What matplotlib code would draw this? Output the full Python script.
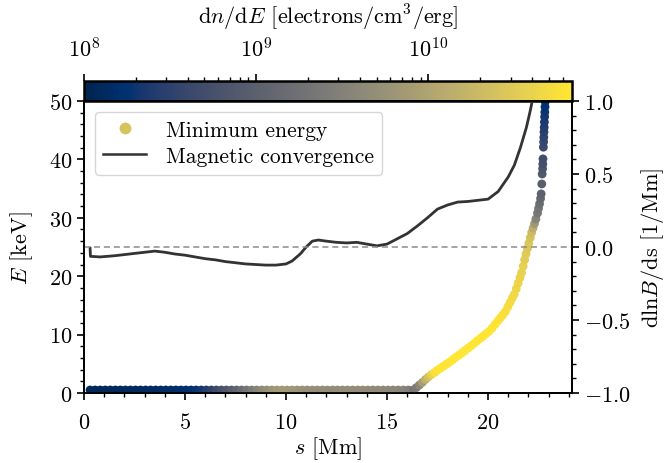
import matplotlib
matplotlib.use('Agg')
import matplotlib.pyplot as plt
import numpy as np
from matplotlib.colors import LogNorm
from matplotlib.lines import Line2D
from matplotlib.ticker import MultipleLocator

plt.rcParams['font.family'] = 'serif'
plt.rcParams['font.serif'] = ['cmr10']
plt.rcParams['mathtext.fontset'] = 'cm'
plt.rcParams['axes.formatter.use_mathtext'] = True
plt.rcParams['font.size'] = 16
plt.rcParams['axes.linewidth'] = 1.3

# minimum energy along the loop (flat part near E = 0)
s_flat = [0.3, 0.55, 0.8, 1.05, 1.3, 1.55, 1.8, 2.05, 2.3, 2.55, 2.8, 3.05, 3.3, 3.55, 3.8,
          4.05, 4.3, 4.55, 4.8, 5.05, 5.3, 5.55, 5.8, 6.05, 6.3, 6.55, 6.8, 7.05, 7.3, 7.55,
          7.8, 8.05, 8.3, 8.55, 8.8, 9.05, 9.3, 9.55, 9.8, 10.05, 10.3, 10.55, 10.8, 11.05,
          11.3, 11.55, 11.8, 12.05, 12.3, 12.55, 12.8, 13.05, 13.3, 13.55, 13.8, 14.05, 14.3,
          14.55, 14.8, 15.05, 15.3, 15.55, 15.8, 16.05, 16.3]
e_flat_level = 0.5
dnde_flat = [1.2e8, 1.2e8, 1.2e8, 1.2e8, 1.25e8, 1.25e8, 1.25e8, 1.3e8, 1.3e8, 1.3e8, 1.3e8,
             1.35e8, 1.35e8, 1.35e8, 1.4e8, 1.4e8, 1.45e8, 1.5e8, 1.55e8, 1.6e8, 1.7e8, 1.9e8,
             2.1e8, 2.6e8, 3.3e8, 4.3e8, 5.5e8, 7e8, 9e8, 1.2e9, 1.6e9, 2.1e9, 2.7e9, 3.4e9,
             4.2e9, 5e9, 6e9, 6.8e9, 7.2e9, 7e9, 6.5e9, 6e9, 5.6e9, 5.3e9, 5.1e9, 5e9, 4.9e9,
             4.8e9, 4.8e9, 4.7e9, 4.7e9, 4.6e9, 4.6e9, 4.5e9, 4.5e9, 4.4e9, 4.4e9, 4.3e9,
             4.2e9, 4.1e9, 4e9, 3.8e9, 3.5e9, 3e9, 2.2e9]

# rising part
s_rise = [16.45, 16.6, 16.75, 16.9, 17.05, 17.2, 17.35, 17.5, 17.65, 17.8, 17.95, 18.1, 18.25,
          18.4, 18.55, 18.7, 18.85, 19.0, 19.15, 19.3, 19.45, 19.6, 19.75, 19.9, 20.05, 20.2,
          20.35, 20.5, 20.62, 20.74, 20.86, 20.98, 21.09, 21.2, 21.3, 21.4, 21.49, 21.58,
          21.66, 21.74, 21.81, 21.88, 21.95, 22.02, 22.09, 22.16, 22.23, 22.3, 22.37]
e_rise = [0.9, 1.35, 1.8, 2.3, 2.75, 3.15, 3.5, 3.9, 4.25, 4.6, 4.95, 5.3, 5.7, 6.1, 6.45,
          6.85, 7.25, 7.65, 8.05, 8.45, 8.9, 9.3, 9.7, 10.15, 10.55, 11.1, 11.75, 12.4, 12.9,
          13.4, 13.95, 14.75, 15.5, 16.25, 16.9, 17.85, 18.8, 19.75, 20.6, 21.7, 22.8, 23.8,
          24.75, 25.65, 26.6, 27.5, 28.25, 29.0, 29.8]
dnde_rise = [2.5e9, 4e9, 8e9, 1.5e10, 2.5e10, 4e10, 5.5e10, 6e10, 6.2e10, 6.3e10, 6.4e10,
             6.5e10, 6.5e10, 6.5e10, 6.5e10, 6.5e10, 6.5e10, 6.5e10, 6.5e10, 6.5e10, 6.5e10,
             6.5e10, 6.4e10, 6.4e10, 6.3e10, 6.2e10, 6.1e10, 6e10, 5.8e10, 5.6e10, 5.4e10,
             5.2e10, 5e10, 4.8e10, 4.6e10, 4.4e10, 4.2e10, 4e10, 3.8e10, 3.6e10, 3.4e10,
             3.2e10, 3e10, 2.8e10, 2.5e10, 2e10, 1.3e10, 7e9, 3.5e9]

# near-vertical part at the footpoint
s_top = [22.45, 22.5, 22.55, 22.6, 22.63, 22.66, 22.68, 22.7, 22.71, 22.72, 22.74, 22.75,
         22.76, 22.77, 22.78, 22.79, 22.8, 22.81, 22.82, 22.83]
e_top = [30.8, 31.6, 32.4, 33.3, 34.1, 35.8, 37.5, 38.4, 39.2, 40.1, 42.1, 43.0, 43.8, 44.7,
         45.5, 46.4, 47.3, 48.1, 49.0, 49.9]
dnde_top = [2.2e9, 2e9, 1.6e9, 1.3e9, 1.1e9, 9e8, 7.5e8, 6.5e8, 5.5e8, 5e8, 4.2e8, 3.8e8,
            3.4e8, 3e8, 2.7e8, 2.4e8, 2.2e8, 2e8, 1.8e8, 1.7e8]

# magnetic convergence dlnB/ds
s_conv = [0.3, 0.32, 0.8, 1.5, 2.0, 2.5, 3.0, 3.5, 4.0, 4.5, 5.0, 5.5, 6.0, 6.5, 7.0, 7.5,
          8.0, 8.5, 9.0, 9.5, 10.0, 10.3, 10.7, 11.0, 11.3, 11.6, 12.0, 12.5, 13.0, 13.5,
          14.0, 14.5, 15.0, 15.5, 16.0, 16.5, 17.0, 17.5, 18.0, 18.5, 19.0, 19.5, 20.0, 20.5,
          21.0, 21.3, 21.6, 21.9, 22.1, 22.3]
conv = [-0.008, -0.064, -0.068, -0.06, -0.052, -0.044, -0.036, -0.028, -0.036, -0.048,
        -0.056, -0.068, -0.08, -0.088, -0.1, -0.108, -0.116, -0.12, -0.124, -0.124, -0.116,
        -0.096, -0.048, 0.0, 0.04, 0.048, 0.04, 0.032, 0.028, 0.032, 0.02, 0.008, 0.02,
        0.056, 0.092, 0.144, 0.2, 0.26, 0.288, 0.308, 0.312, 0.32, 0.328, 0.38, 0.48, 0.56,
        0.68, 0.82, 0.94, 1.08]

s_min = s_flat + s_rise + s_top
e_min = [e_flat_level] * len(s_flat) + e_rise + e_top
dnde = dnde_flat + dnde_rise + dnde_top

fig = plt.figure(figsize=(6.72, 4.64), dpi=100)
ax = fig.add_axes([0.125, 0.151, 0.726, 0.629])
cax = fig.add_axes([0.125, 0.780, 0.726, 0.043])

norm = LogNorm(vmin=1e8, vmax=6.8e10)
sc = ax.scatter(s_min, e_min, c=dnde, cmap='cividis', norm=norm, s=40, edgecolors='none',
                zorder=3)
ax.set_xlim(0, 24.15)
ax.set_ylim(0, 50)
ax.set_xlabel('$s$ [Mm]', labelpad=1)
ax.set_ylabel('$E$ [keV]', labelpad=10)
ax.xaxis.set_major_locator(MultipleLocator(5))
ax.xaxis.set_minor_locator(MultipleLocator(1))
ax.yaxis.set_major_locator(MultipleLocator(10))
ax.yaxis.set_minor_locator(MultipleLocator(2))

ax2 = ax.twinx()
ax2.plot(s_conv, conv, color='#333333', lw=2.0)
ax2.axhline(0, color='#8c8c8c', ls=(0, (4, 2.5)), lw=1.1)
ax2.set_ylim(-1, 1)
ax2.set_ylabel('dln$B$/ds [1/Mm]', labelpad=6)
ax2.yaxis.set_major_locator(MultipleLocator(0.5))
ax2.yaxis.set_minor_locator(MultipleLocator(0.1))

for a in (ax, ax2):
  a.tick_params(which='major', direction='out', length=5, width=1.2)
  a.tick_params(which='minor', direction='out', length=3, width=1.0)
ax.tick_params(axis='x', which='major', pad=9)

cb = fig.colorbar(sc, cax=cax, orientation='horizontal')
cax.xaxis.set_ticks_position('top')
cax.xaxis.set_label_position('top')
cb.set_label('d$n$/d$E$ [electrons/cm$^3$/erg]', labelpad=9)
cax.tick_params(which='major', direction='out', length=5, width=1.2, pad=10)
cax.tick_params(which='minor', direction='out', length=3, width=1.0)
cb.outline.set_linewidth(1.8)

handles = [Line2D([], [], ls='none', marker='o', ms=8.5, color='#d6c35c', mec='none'),
           Line2D([], [], color='#333333', lw=1.8)]
ax2.legend(handles, ['Minimum energy', 'Magnetic convergence'], loc='upper left',
           fontsize=15.5, borderaxespad=0.5, handletextpad=0.9, labelspacing=0.3)

fig.savefig('out.png', dpi=100)
